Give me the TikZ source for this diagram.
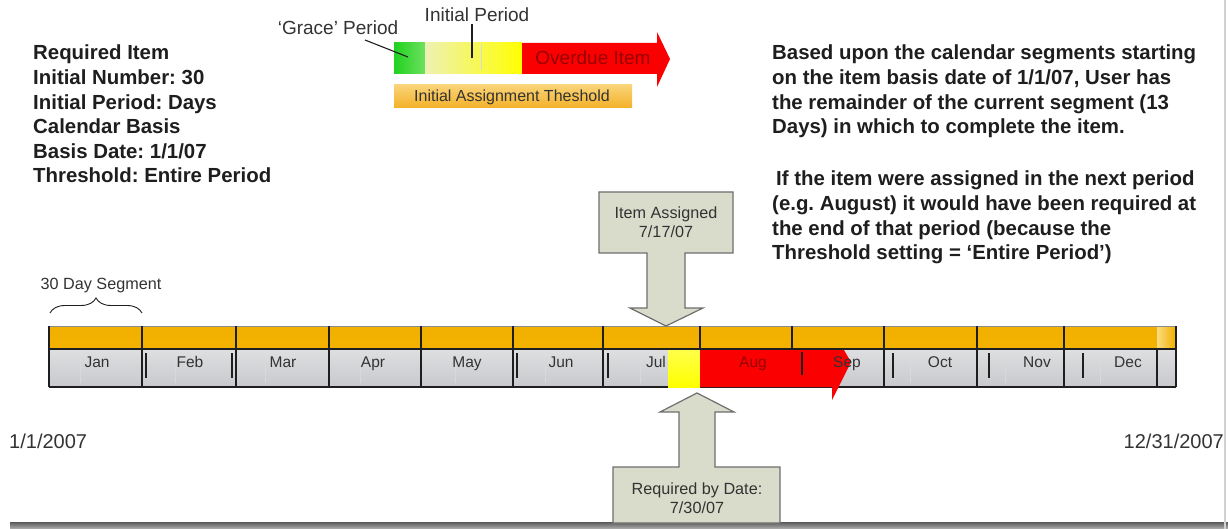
\documentclass[tikz,border=0pt]{standalone}
\usepackage{fontspec}
\setmainfont{Liberation Sans}
\usetikzlibrary{decorations.pathreplacing}
\frenchspacing

\definecolor{ink}{HTML}{1E1E1E}
\definecolor{txt}{HTML}{333333}
\definecolor{calfill}{HTML}{D9DCCB}
\definecolor{calline}{HTML}{6E6E6E}
\definecolor{orTop}{HTML}{F2B000}
\definecolor{orMid}{HTML}{FCDC80}
\definecolor{orBot}{HTML}{F3B200}
\definecolor{grTop}{HTML}{DEDFE1}
\definecolor{grBot}{HTML}{C8C9CC}
\definecolor{dkred}{HTML}{980000}
\definecolor{brightred}{HTML}{FA0000}
\definecolor{gGreen}{HTML}{1ED21E}
\definecolor{gGreenL}{HTML}{70E060}
\definecolor{yPale}{HTML}{EEF1B4}
\definecolor{yFull}{HTML}{FFFF00}

\begin{document}
\begin{tikzpicture}[x=1pt,y=-1pt,
  boldtxt/.style={font=\fontsize{20.4}{24.6}\selectfont\bfseries, text=ink,
    align=left, inner sep=0, anchor=north west},
  month/.style={font=\fontsize{15.5}{18}\selectfont, text=txt, inner sep=0, anchor=base},
  label/.style={font=\fontsize{19}{22}\selectfont, text=txt, inner sep=0, anchor=base},
  calltxt/.style={font=\fontsize{16.2}{19.5}\selectfont, text=txt, align=center, inner sep=0},
  callout/.style={fill=calfill, draw=calline, line width=1.2pt, line join=miter},
  divider/.style={draw=ink, line width=1.5pt},
  thin divider/.style={draw=ink, line width=1.1pt},
  leader/.style={draw=ink, line width=1.1pt},
  orangeseg/.style={top color=orTop, middle color=orMid, bottom color=orBot}
]
\useasboundingbox (0,0) rectangle (1228,529);
\fill[white] (0,0) rectangle (1228,529);

% page shadow along the bottom and right edges
\shade[top color=black!65, bottom color=black!30] (10,522) rectangle (1228,529);
\fill[black!18] (1223.5,0) rectangle (1225.5,529);

% ---------------- settings text ----------------
\node[boldtxt] (settings) at (33,45) {Required Item\\Initial Number: 30\\Initial Period: Days\\Calendar Basis\\Basis Date: 1/1/07\\Threshold: Entire Period};

\node[boldtxt] (explain) at (772,45) {Based upon the calendar segments starting\\on the item basis date of 1/1/07, User has\\the remainder of the current segment (13\\Days) in which to complete the item.\\[27.6pt]\hspace*{4pt}If the item were assigned in the next period\\(e.g. August) it would have been required at\\the end of that period (because the\\Threshold setting = ‘Entire Period’)};

% ---------------- legend ----------------
\fill[left color=gGreen, right color=gGreenL] (394,43) rectangle (425,74);
\coordinate (grace) at (408,57);
\fill[left color=yPale, right color=yFull] (425,43) rectangle (522,74);
\coordinate (initial) at (472,58);
\draw[black!15, line width=0.6pt] (481,44) -- (481,70);
\fill[brightred] (522,43) -- (657,43) -- (657,32) -- (670,59) -- (657,87) -- (657,74) -- (522,74) -- cycle;
\node[font=\fontsize{19}{22}\selectfont, text=dkred, inner sep=0, anchor=base] (overdue) at (593,65) {Overdue Item};

\node[label] (gracelbl) at (338,35) {‘Grace’ Period};
\node[label] (initlbl) at (477,22) {Initial Period};
\coordinate (graceA) at (365,40);
\coordinate (initA) at (472,24);
\draw[leader] (graceA) -- (grace);
\draw[leader] (initA) -- (initial);

\shade[top color={rgb,255:red,250;green,212;blue,120}, bottom color={rgb,255:red,243;green,176;blue,40}] (394,85) rectangle (632,108);
\node[font=\fontsize{16}{19}\selectfont, text=txt, inner sep=0, anchor=base] (thresh) at (512,102) {Initial Assignment Theshold};

% ---------------- segment brace ----------------
\node[font=\fontsize{16.2}{19}\selectfont, text=txt, inner sep=0, anchor=base] (seglbl) at (101,289) {30 Day Segment};
\coordinate (braceL) at (50,313);
\coordinate (braceR) at (142,313);
\draw[ink, line width=0.9pt, decorate, decoration={brace, amplitude=15pt}] (braceL) -- (braceR);

% ---------------- timeline: month band ----------------
\shade[top color=grTop, bottom color=grBot] (49,349) rectangle (1176,387);
\draw[divider] (49,387) -- (1176,387);
\foreach \x in {49,142,236,329,421,513,603,700,792,884,977,1064,1157,1176}
  \draw[divider] (\x,349) -- (\x,387);
\foreach \x in {146,232,517,608,893,989,1083}
  \draw[thin divider] (\x,353) -- (\x,378);
\foreach \x in {80,175,265,360,455,545,640,730,910,1005,1100}
  \draw[white!70!gray, line width=0.5pt] (\x,356) -- (\x,383);

% assignment window and overdue run
\fill[top color=yFull!70!white, bottom color=yFull] (668,349) rectangle (700,387);
\fill[brightred] (700,349) -- (832,349) -- (832,330) -- (851,362) -- (832,400) -- (832,387) -- (700,387) -- cycle;
\draw[thin divider] (802,352) -- (802,375);

% month names
\foreach \m/\c in {Jan/97,Feb/190,Mar/283,Apr/373,May/467,Jun/561,Jul/656,Sep/847,Oct/940,Nov/1037,Dec/1128}
  \node[month] (m\m) at (\c,367) {\m};
\node[month, text=dkred] (mAug) at (753,367) {Aug};

% ---------------- timeline: segment band ----------------
\foreach \a/\b in {49/142,142/236,236/329,329/421,421/513,513/603,603/700,700/792,792/884,884/977,977/1064,1064/1176}
  \shade[orangeseg] (\a,326) rectangle (\b,349);
\shade[left color=orMid, right color=orTop] (1157,327) rectangle (1175,348);
\draw[black!45, line width=0.8pt] (49,326) -- (1176,326);
\foreach \x in {49,142,236,329,421,513,603,700,792,884,977,1064,1176}
  \draw[divider] (\x,326) -- (\x,349);
\draw[ink, line width=2.2pt] (49,349) -- (1176,349);

% ---------------- dates ----------------
\node[font=\fontsize{20}{24}\selectfont, text=txt, inner sep=0, anchor=base west] (start) at (9,448) {1/1/2007};
\node[font=\fontsize{20}{24}\selectfont, text=txt, inner sep=0, anchor=base east] (finish) at (1224,448) {12/31/2007};

% ---------------- callouts ----------------
\draw[callout] (599,192) -- (733,192) -- (733,253) -- (685,253) -- (685,308) -- (703,308) -- (666,326) -- (630,308) -- (647,308) -- (647,253) -- (599,253) -- cycle;
\node[calltxt] (assigned) at (666,222) {Item Assigned\\7/17/07};

\draw[callout] (697,393) -- (734,412) -- (715,412) -- (715,467) -- (780,467) -- (780,523) -- (613,523) -- (613,467) -- (679,467) -- (679,412) -- (660,412) -- cycle;
\node[calltxt] (required) at (697,498) {Required by Date:\\7/30/07};
\end{tikzpicture}
\end{document}
